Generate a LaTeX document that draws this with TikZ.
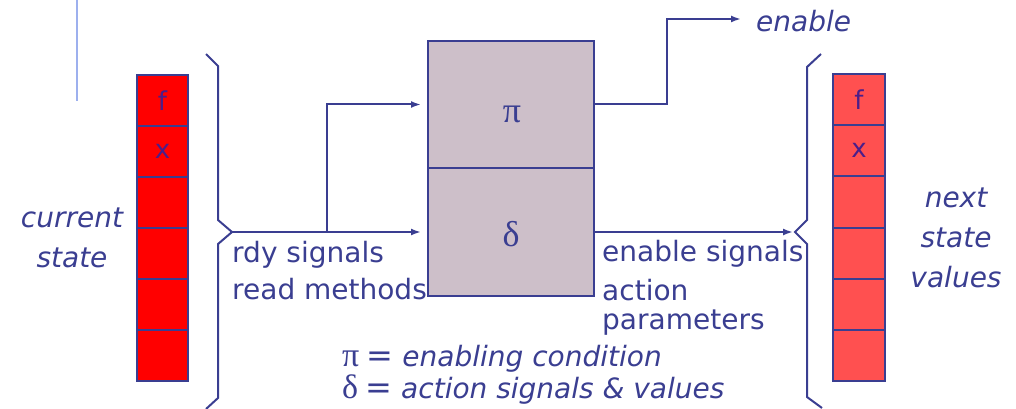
\documentclass[tikz,border=0pt]{standalone}
\usepackage{fontspec}
\setmainfont{DejaVu Sans}
\newfontfamily\greekfont{Liberation Serif}
\usetikzlibrary{arrows.meta}
\definecolor{ink}{HTML}{3A3E91}
\definecolor{regtext}{HTML}{4B1E8A}
\definecolor{curred}{HTML}{FF0000}
\definecolor{nextred}{HTML}{FF5050}
\definecolor{boxfill}{HTML}{CDBFC9}
\definecolor{rule}{HTML}{9DB0EE}
\tikzset{
  wire/.style={draw=ink, line width=2pt},
  arr/.style={wire, -{Latex[length=10pt,width=7pt]}},
  lbl/.style={text=ink, inner sep=0pt, font=\fontsize{28}{34}\selectfont},
  cell/.style={draw=ink, line width=2pt, minimum width=51pt, minimum height=51pt,
               inner sep=0pt, text=regtext, font=\fontsize{26}{30}\selectfont},
  curcell/.style={cell, fill=curred},
  nxtcell/.style={cell, fill=nextred, minimum width=52pt, minimum height=51.2pt},
  fnbox/.style={draw=ink, line width=2pt, fill=boxfill, minimum width=166pt,
                inner sep=0pt},
  greek/.style={text=ink, inner sep=0pt, font=\fontsize{36}{40}\selectfont\greekfont}
}
% legend entry: Greek symbol, equals sign, italic meaning
\newcommand\legline[2]{{\fontsize{34}{34}\selectfont\greekfont #1}\hspace{11pt}\makebox[20pt]{\fontsize{32}{34}\selectfont=}\hspace{12pt}\textit{#2}}
\begin{document}
\begin{tikzpicture}[x=1pt, y=-1pt]
\useasboundingbox (0,0) rectangle (1016,409);

% thin rule at the top left
\draw[rule, line width=1.5pt] (77,0) -- (77,101);

% current state register
\foreach \i/\t in {0/f,1/x,2/,3/,4/,5/} {
  \node[curcell] (c\i) at (162.5,{100.5+51*\i}) {\t};
}
\node[lbl, align=center, font=\fontsize{28}{40}\selectfont\itshape] (curlbl) at (72,238) {current\\state};

% next state register
\foreach \i/\t in {0/f,1/x,2/,3/,4/,5/} {
  \node[nxtcell] (n\i) at (859,{99.6+51.2*\i}) {\t};
}
\node[lbl, align=center, font=\fontsize{28}{40}\selectfont\itshape] (nxtlbl) at (956,238) {next\\state\\values};

% combinational block
\node[fnbox, minimum height=127pt] (pi) at (511,104.5) {};
\node[fnbox, minimum height=128pt] (delta) at (511,232) {};
\node[greek, anchor=base] (pisym) at (512,122) {π};
\node[greek, anchor=base] (deltasym) at (511,246) {δ};

% braces
\coordinate (lt) at (232,232);
\draw[wire, line join=miter] (206,54) -- (218,66) -- (218,220) -- (lt) -- (218,244) -- (218,398) -- (206,409);
\coordinate (rt) at (795,232);
\draw[wire, line join=miter] (821,54) -- (807,67) -- (807,220) -- (rt) -- (807,244) -- (807,397) -- (822,408);

% inputs
\coordinate (br) at (327,232);
\draw[arr, shorten >=6pt] (lt) -- (delta.west);
\draw[arr, shorten >=6pt] (br) |- (pi.west);

% outputs
\coordinate (up) at (667,19);
\coordinate (enin) at (741,19);
\node[lbl, anchor=base west, font=\fontsize{28}{34}\selectfont\itshape] (en) at (756,32) {enable};
\draw[arr] (pi.east) -| (up) -- (enin);
\draw[arr, shorten >=2pt] (delta.east) -- (rt);

% signal labels
\node[lbl, anchor=base west] (rdy) at (232,262) {rdy signals};
\node[lbl, anchor=base west] (rdm) at (232,299) {read methods};
\node[lbl, anchor=base west] (ens) at (602,261) {enable signals};
\node[lbl, anchor=base west] (act) at (602,300) {action};
\node[lbl, anchor=base west] (par) at (602,329) {parameters};

% legend
\node[lbl, anchor=base west] (legpi) at (342,366) {\legline{π}{enabling condition}};
\node[lbl, anchor=base west] (legdelta) at (342,398) {\legline{δ}{action signals \& values}};
\end{tikzpicture}
\end{document}
